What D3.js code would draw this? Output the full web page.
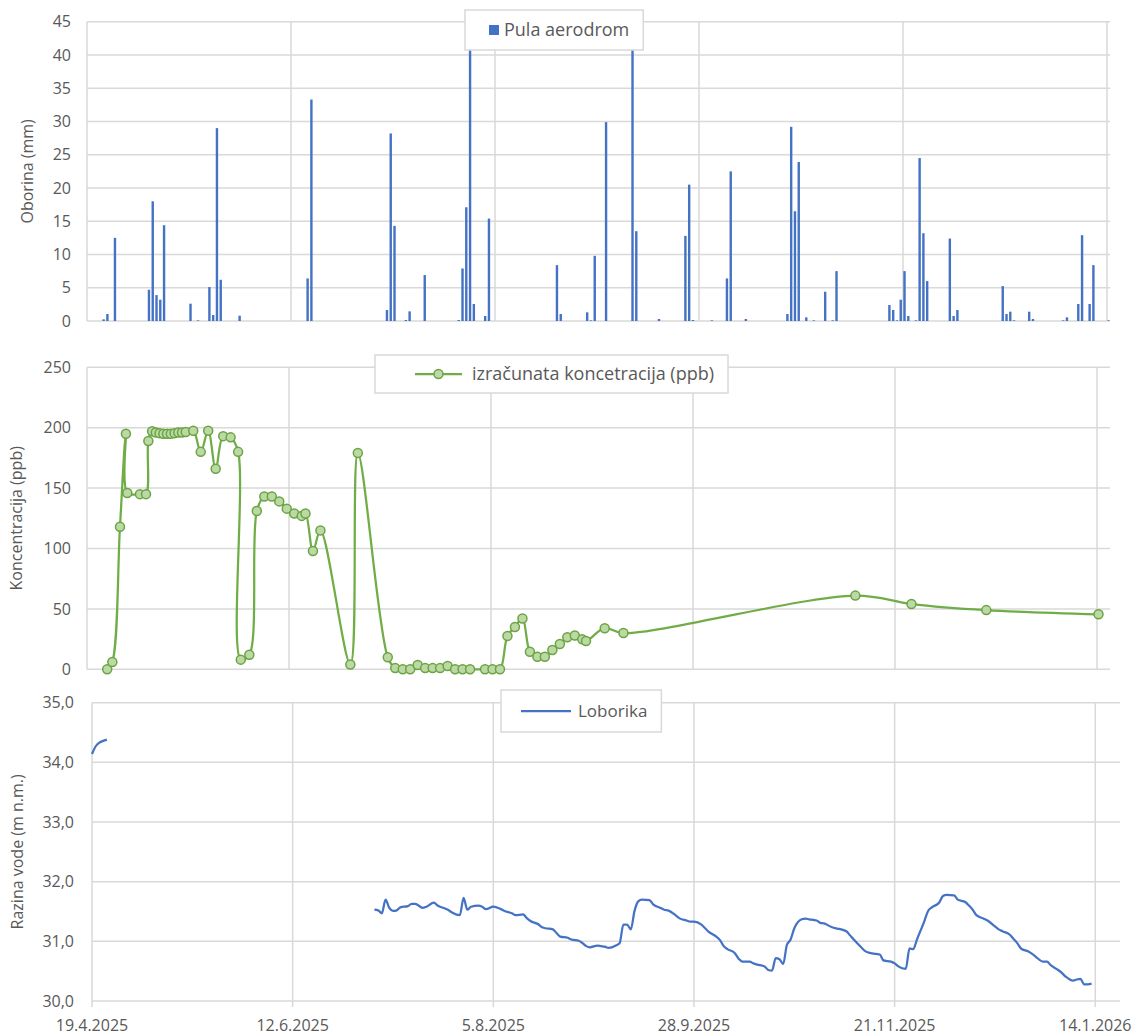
<!DOCTYPE html>
<html>
<head>
<meta charset="utf-8">
<script src="https://cdnjs.cloudflare.com/ajax/libs/d3/7.8.5/d3.min.js"></script>
<style>
  body { margin: 0; background: #fff; }
  text { font-family: "Open Sans", sans-serif; fill: #595959; }
</style>
</head>
<body>
<script>
//Width and height
var w = 1142;
var h = 1036;

//Daily rainfall, Pula aerodrom (mm)
var rainDates = ["2025-04-23","2025-04-24","2025-04-26","2025-05-05","2025-05-06","2025-05-07","2025-05-08","2025-05-09",
  "2025-05-16","2025-05-18","2025-05-21","2025-05-22","2025-05-23","2025-05-24","2025-05-29","2025-06-16","2025-06-17",
  "2025-07-07","2025-07-08","2025-07-09","2025-07-12","2025-07-13","2025-07-17","2025-07-26","2025-07-27","2025-07-28",
  "2025-07-29","2025-07-30","2025-08-02","2025-08-03","2025-08-21","2025-08-22","2025-08-29","2025-08-30","2025-08-31",
  "2025-09-03","2025-09-10","2025-09-11","2025-09-17","2025-09-24","2025-09-25","2025-09-26","2025-10-01","2025-10-05",
  "2025-10-06","2025-10-10","2025-10-21","2025-10-22","2025-10-23","2025-10-24","2025-10-26","2025-10-28","2025-10-31",
  "2025-11-02","2025-11-03","2025-11-17","2025-11-18","2025-11-19","2025-11-20","2025-11-21","2025-11-22","2025-11-24",
  "2025-11-25","2025-11-26","2025-11-27","2025-12-03","2025-12-04","2025-12-05","2025-12-17","2025-12-18","2025-12-19",
  "2025-12-20","2025-12-24","2025-12-25","2026-01-02","2026-01-03","2026-01-06","2026-01-07","2026-01-09","2026-01-10",
  "2026-01-14"];
var rainValues = [0.25,1.05,12.5,4.7,18.0,3.9,3.2,14.4,
  2.6,0.1,5.1,0.9,29.0,6.2,0.8,6.4,33.3,
  1.65,28.2,14.3,0.15,1.45,6.9,0.15,7.9,17.1,
  43,2.55,0.75,15.4,8.4,1.05,1.3,0.1,9.8,
  29.9,44,13.5,0.3,12.8,20.5,0.15,0.1,6.4,
  22.5,0.3,1.05,29.2,16.5,23.9,0.55,0.1,4.4,
  0.1,7.5,2.4,1.65,0.1,3.2,7.5,0.75,0.1,
  24.5,13.2,6.0,12.4,0.75,1.65,5.25,1.05,1.4,
  0.1,1.4,0.3,0.1,0.55,2.55,12.9,2.55,8.4,
  0.1];

//Calculated concentration (ppb)
var concDates = ["2025-04-24","2025-04-25 09:00","2025-04-27 10:00","2025-04-29","2025-04-29 09:00","2025-05-02 18:00",
  "2025-05-04 09:00","2025-05-05","2025-05-06","2025-05-07","2025-05-08","2025-05-09","2025-05-10","2025-05-11",
  "2025-05-12","2025-05-13","2025-05-14","2025-05-15","2025-05-17","2025-05-19","2025-05-21","2025-05-23","2025-05-25",
  "2025-05-27","2025-05-29","2025-05-29 17:00","2025-06-01","2025-06-03","2025-06-05","2025-06-07","2025-06-09",
  "2025-06-11","2025-06-13","2025-06-15","2025-06-16","2025-06-18","2025-06-20","2025-06-28","2025-06-30",
  "2025-07-08","2025-07-10","2025-07-12","2025-07-14","2025-07-16","2025-07-18","2025-07-20","2025-07-22","2025-07-24",
  "2025-07-26","2025-07-28","2025-07-30","2025-08-03","2025-08-05","2025-08-07","2025-08-09","2025-08-11","2025-08-13",
  "2025-08-15","2025-08-17","2025-08-19","2025-08-21","2025-08-23","2025-08-25","2025-08-27","2025-08-29","2025-08-30",
  "2025-09-04","2025-09-09","2025-11-10","2025-11-25","2025-12-15","2026-01-14"];
var concValues = [0,6,118,195,146,145,
  145,189,197,196,195.5,195,195,195,
  195.5,196,196,196.5,197.5,180,197.5,166,193,
  192,180,8,12,131,143,143,139,
  133,129,127,129,98,115,4,179,
  10,1,0,0,3.5,1,1,1,2.7,
  0,0,0,0,0,0,27.6,35,42,
  14.6,10.4,10.4,16,21,26.5,28,24.8,23.4,
  34,30,61,54,49,45.5];

//Water level, Loborika (m n.m.); null marks the gap in the record
var levelDates = ["2025-04-19","2025-04-20","2025-04-21","2025-04-22","2025-04-23","2025-05-01",
  "2025-07-04","2025-07-05","2025-07-06","2025-07-07","2025-07-08","2025-07-09","2025-07-10","2025-07-11","2025-07-13",
  "2025-07-14","2025-07-15","2025-07-17","2025-07-18","2025-07-20","2025-07-21","2025-07-23","2025-07-24","2025-07-25",
  "2025-07-27","2025-07-28","2025-07-29","2025-07-30","2025-08-01","2025-08-02","2025-08-03","2025-08-05","2025-08-07",
  "2025-08-08","2025-08-10","2025-08-11","2025-08-13","2025-08-14","2025-08-15","2025-08-17","2025-08-18","2025-08-19",
  "2025-08-21","2025-08-22","2025-08-23","2025-08-25","2025-08-26","2025-08-28","2025-08-29","2025-08-30","2025-08-31",
  "2025-09-02","2025-09-03","2025-09-04","2025-09-05","2025-09-07","2025-09-08","2025-09-09","2025-09-10","2025-09-11",
  "2025-09-12","2025-09-13","2025-09-14","2025-09-16","2025-09-17","2025-09-19","2025-09-20","2025-09-21","2025-09-23",
  "2025-09-24","2025-09-26","2025-09-27","2025-09-28","2025-09-30","2025-10-01","2025-10-02","2025-10-04","2025-10-05",
  "2025-10-06","2025-10-07","2025-10-09","2025-10-10","2025-10-11","2025-10-13","2025-10-14","2025-10-15","2025-10-17",
  "2025-10-18","2025-10-19","2025-10-20","2025-10-21","2025-10-22","2025-10-23","2025-10-24","2025-10-25","2025-10-27",
  "2025-10-28","2025-10-29","2025-10-31","2025-11-01","2025-11-02","2025-11-04","2025-11-05","2025-11-06","2025-11-08",
  "2025-11-09","2025-11-10","2025-11-12","2025-11-13","2025-11-14","2025-11-16","2025-11-17","2025-11-18","2025-11-20",
  "2025-11-21","2025-11-22","2025-11-24","2025-11-25","2025-11-26","2025-11-27","2025-11-29","2025-11-30","2025-12-01",
  "2025-12-03","2025-12-04","2025-12-05","2025-12-07","2025-12-08","2025-12-10","2025-12-11","2025-12-12","2025-12-13",
  "2025-12-15","2025-12-16","2025-12-18","2025-12-19","2025-12-20","2025-12-22","2025-12-23","2025-12-24","2025-12-25",
  "2025-12-27","2025-12-28","2025-12-29","2025-12-31","2026-01-01","2026-01-02","2026-01-04","2026-01-05","2026-01-06",
  "2026-01-08","2026-01-09","2026-01-10","2026-01-11","2026-01-12","2026-01-13"];
var levelValues = [34.14,34.27,34.33,34.36,34.38,null,
  31.53,31.52,31.47,31.70,31.56,31.51,31.52,31.57,31.59,
  31.63,31.63,31.56,31.58,31.65,31.60,31.55,31.52,31.48,
  31.44,31.73,31.53,31.58,31.60,31.58,31.54,31.58,31.54,
  31.51,31.47,31.44,31.45,31.39,31.34,31.29,31.24,31.22,
  31.20,31.14,31.08,31.06,31.03,31.01,30.97,30.92,30.90,
  30.93,30.92,30.91,30.89,30.93,30.97,31.28,31.28,31.20,
  31.51,31.67,31.70,31.69,31.62,31.56,31.53,31.52,31.44,
  31.39,31.35,31.33,31.33,31.28,31.22,31.16,31.08,31.02,
  30.92,30.87,30.80,30.71,30.66,30.66,30.63,30.61,30.58,
  30.52,30.51,30.72,30.70,30.62,30.94,31.03,31.22,31.37,
  31.38,31.37,31.35,31.31,31.30,31.24,31.22,31.21,31.17,
  31.10,31.03,30.90,30.84,30.81,30.79,30.78,30.68,30.66,
  30.63,30.58,30.54,30.88,30.87,31.03,31.34,31.51,31.57,
  31.65,31.76,31.78,31.77,31.70,31.66,31.60,31.53,31.44,
  31.38,31.35,31.25,31.20,31.17,31.11,31.04,30.97,30.88,
  30.83,30.79,30.74,30.66,30.66,30.60,30.52,30.47,30.41,
  30.34,30.36,30.37,30.28,30.28,30.29];

//Axis ticks
var tickDates = ["2025-04-19","2025-06-12","2025-08-05","2025-09-28","2025-11-21","2026-01-14"];
var rainTicks = [0,5,10,15,20,25,30,35,40,45];
var concTicks = [0,50,100,150,200,250];
var levelTicks = [30,31,32,33,34,35];

var parseDay = d3.utcParse("%Y-%m-%d");
var parseHour = d3.utcParse("%Y-%m-%d %H:%M");
function parseDate(s) { return parseHour(s) || parseDay(s); }

var formatDate = d3.utcFormat("%-d.%-m.%Y");
var hr = d3.formatLocale({decimal: ",", thousands: ".", grouping: [3], currency: ["", " €"]});
var formatLevel = hr.format(".1f");

var startDate = parseDay("2025-04-19");
var endDate = parseDay("2026-01-14");
//Columns and markers sit inside their day, not on its start
var dayShift = 0.4 * 864e5;

var gridColor = "#d9d9d9";

//Create SVG element
var svg = d3.select("body")
            .append("svg")
            .attr("width", w)
            .attr("height", h);

//Draws the frame of one panel and hands back its scales
function panel(p) {
    var x = d3.scaleUtc().domain([startDate, endDate]).range([p.left, p.right]);
    var y = d3.scaleLinear().domain(p.domain).range([p.bottom, p.top]);
    var g = svg.append("g");

    g.selectAll("line.h")
        .data(p.ticks)
        .enter()
        .append("line")
        .attr("x1", p.left)
        .attr("x2", p.edge)
        .attr("y1", function(d) { return y(d); })
        .attr("y2", function(d) { return y(d); })
        .attr("stroke", gridColor)
        .attr("stroke-width", 1.5);

    g.selectAll("line.v")
        .data(tickDates)
        .enter()
        .append("line")
        .attr("x1", function(d) { return x(parseDay(d)); })
        .attr("x2", function(d) { return x(parseDay(d)); })
        .attr("y1", p.top)
        .attr("y2", p.bottom + (p.dateLabels ? 6 : 0))
        .attr("stroke", gridColor)
        .attr("stroke-width", 1.5);

    g.selectAll("text.tick")
        .data(p.ticks)
        .enter()
        .append("text")
        .attr("x", p.left - p.labelGap)
        .attr("y", function(d) { return y(d); })
        .attr("dy", "0.35em")
        .attr("text-anchor", "end")
        .style("font-size", "16px")
        .text(p.format);

    if (p.dateLabels) {
        g.selectAll("text.date")
            .data(tickDates)
            .enter()
            .append("text")
            .attr("x", function(d) { return x(parseDay(d)); })
            .attr("y", p.bottom + 24)
            .attr("dy", "0.35em")
            .attr("text-anchor", "middle")
            .style("font-size", "16px")
            .text(function(d) { return formatDate(parseDay(d)); });
    }

    g.append("text")
        .attr("transform", "translate(" + p.titleX + "," + ((p.top + p.bottom) / 2) + ") rotate(-90)")
        .attr("dy", "0.35em")
        .attr("text-anchor", "middle")
        .style("font-size", "16px")
        .text(p.title);

    return {x: x, y: y};
}

//Legend box with a symbol drawn by the caller
function legend(lx, ly, lh, textX, label, size) {
    var g = svg.append("g");
    var box = g.append("rect")
        .attr("x", lx)
        .attr("y", ly)
        .attr("height", lh)
        .attr("fill", "#fff")
        .attr("stroke", gridColor)
        .attr("stroke-width", 1.5);
    var t = g.append("text")
        .attr("x", textX)
        .attr("y", ly + lh / 2)
        .attr("dy", "0.35em")
        .style("font-size", size + "px")
        .text(label);
    box.attr("width", textX + t.node().getComputedTextLength() + 14 - lx);
    return g;
}

// ---- Rainfall ----
var top1 = panel({left: 87, right: 1107, edge: 1110, top: 21.7, bottom: 321, domain: [0, 45],
    ticks: rainTicks, format: function(d) { return d; }, labelGap: 16, title: "Oborina (mm)", titleX: 27});

var rain = rainDates.map(function(d, i) { return {date: parseDate(d), value: rainValues[i]}; });

svg.append("g")
    .selectAll("rect")
    .data(rain)
    .enter()
    .append("rect")
    .attr("x", function(d) { return top1.x(+d.date + dayShift) - 1.2; })
    .attr("width", 2.4)
    .attr("y", function(d) { return top1.y(d.value); })
    .attr("height", function(d) { return top1.y(0) - top1.y(d.value); })
    .attr("fill", "#4472C4");

var leg1 = legend(465, 10, 40, 504, "Pula aerodrom", 18);
leg1.append("rect")
    .attr("x", 489)
    .attr("y", 25)
    .attr("width", 10)
    .attr("height", 10)
    .attr("fill", "#4472C4");

// ---- Concentration ----
var mid = panel({left: 87, right: 1097, edge: 1110, top: 367.3, bottom: 669.3, domain: [0, 250],
    ticks: concTicks, format: function(d) { return d; }, labelGap: 16, title: "Koncentracija (ppb)", titleX: 16});

var conc = concDates.map(function(d, i) { return {date: parseDate(d), value: concValues[i]}; });

var concLine = d3.line()
    .curve(d3.curveCatmullRom.alpha(0.5))
    .x(function(d) { return mid.x(+d.date + dayShift); })
    .y(function(d) { return mid.y(d.value); });

svg.append("path")
    .datum(conc)
    .attr("d", concLine)
    .attr("fill", "none")
    .attr("stroke", "#70AD47")
    .attr("stroke-width", 2.25);

svg.append("g")
    .selectAll("circle")
    .data(conc)
    .enter()
    .append("circle")
    .attr("cx", function(d) { return mid.x(+d.date + dayShift); })
    .attr("cy", function(d) { return mid.y(d.value); })
    .attr("r", 4.5)
    .attr("fill", "#bcd9a5")
    .attr("stroke", "#6aa443")
    .attr("stroke-width", 1.5);

var leg2 = legend(375, 355, 38, 472, "izračunata koncetracija (ppb)", 18);
leg2.append("line")
    .attr("x1", 415).attr("x2", 462)
    .attr("y1", 374).attr("y2", 374)
    .attr("stroke", "#70AD47")
    .attr("stroke-width", 2.25);
leg2.append("circle")
    .attr("cx", 438.5).attr("cy", 374).attr("r", 4.5)
    .attr("fill", "#bcd9a5")
    .attr("stroke", "#6aa443")
    .attr("stroke-width", 1.5);

// ---- Water level ----
var bot = panel({left: 92, right: 1095.3, edge: 1120, top: 702.7, bottom: 1001, domain: [30, 35],
    ticks: levelTicks, format: formatLevel, labelGap: 18, title: "Razina vode (m n.m.)", titleX: 17, dateLabels: true});

var level = levelDates.map(function(d, i) { return {date: parseDate(d), value: levelValues[i]}; });

var levelLine = d3.line()
    .defined(function(d) { return d.value != null; })
    .curve(d3.curveMonotoneX)
    .x(function(d) { return bot.x(d.date); })
    .y(function(d) { return bot.y(d.value); });

svg.append("path")
    .datum(level)
    .attr("d", levelLine)
    .attr("fill", "none")
    .attr("stroke", "#4472C4")
    .attr("stroke-width", 2.25);

var leg3 = legend(501, 690, 42, 578, "Loborika", 17);
leg3.append("line")
    .attr("x1", 521).attr("x2", 571)
    .attr("y1", 711).attr("y2", 711)
    .attr("stroke", "#4472C4")
    .attr("stroke-width", 2.25);
</script>
</body>
</html>
